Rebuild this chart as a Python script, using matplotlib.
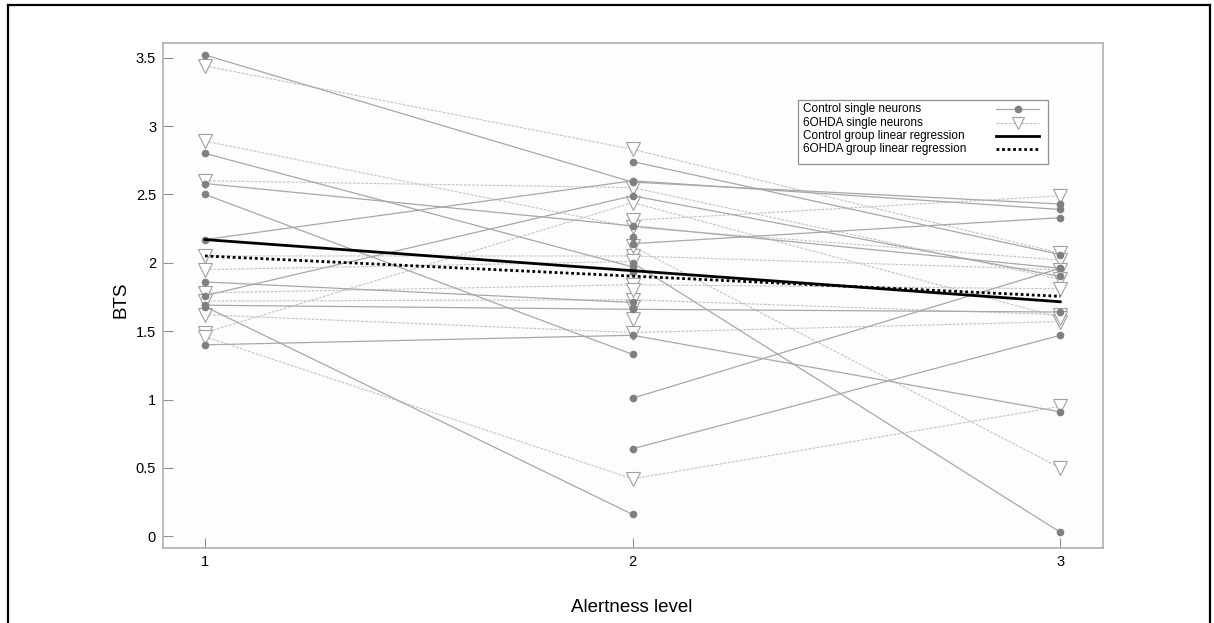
import numpy as np
import matplotlib
matplotlib.use("Agg")
import matplotlib.pyplot as plt
from matplotlib.lines import Line2D
from matplotlib.patches import Rectangle

plt.rcParams['font.family'] = ['Liberation Sans', 'DejaVu Sans']

nan = np.nan
levels = [1, 2, 3]

# Control single neurons: BTS at alertness levels 1, 2, 3 (nan = not recorded)
control_neurons = [
    [3.52, 2.59, 2.43],
    [2.17, 2.60, 2.39],
    [2.80, 1.97, nan],
    [2.58, 2.27, 1.96],
    [2.50, 1.33, nan],
    [1.86, 1.71, nan],
    [1.76, 2.49, 1.90],
    [1.69, 1.66, 1.64],
    [1.68, 0.16, nan],
    [1.40, 1.47, 0.91],
    [nan, 2.74, 2.06],
    [nan, 2.00, 0.03],
    [nan, 2.14, 2.33],
    [nan, 0.64, 1.47],
    [nan, 1.01, 1.96],
    [nan, 2.19, nan],
    [nan, 1.93, nan],
    [nan, 1.67, nan],
]

# 6OHDA single neurons
ohda_neurons = [
    [3.44, 2.83, 2.07],
    [2.89, 2.26, 2.02],
    [2.60, 2.55, 1.88],
    [2.05, 2.05, 1.95],
    [1.95, 2.01, nan],
    [1.78, 1.84, 1.81],
    [1.72, 1.73, 1.62],
    [1.62, 1.49, 1.57],
    [1.49, 2.44, 1.60],
    [1.46, 0.42, 0.95],
    [nan, 2.31, 2.49],
    [nan, 2.12, 0.50],
    [nan, 1.80, nan],
    [nan, 1.68, nan],
    [nan, 1.59, nan],
]

# Group linear regressions (values at level 1 and level 3)
reg_x = [1, 3]
control_reg = [2.17, 1.715]
ohda_reg = [2.05, 1.755]

yticks = [0, 0.5, 1, 1.5, 2, 2.5, 3, 3.5]
ytick_labels = ['0', '0.5', '1', '1.5', '2', '2.5', '3', '3.5']
xticks = [1, 2, 3]
legend_labels = ['Control single neurons', '6OHDA single neurons',
                 'Control group linear regression', '6OHDA group linear regression']

W, H = 1214, 623
fig = plt.figure(figsize=(W / 100, H / 100), dpi=100)
ax = fig.add_axes([0.1343, 0.1199, 0.9086 - 0.1343, 0.9315 - 0.1199])
ax.set_facecolor('#fdfdfd')

ctrl_line = '#a8a8a8'
ctrl_dot = '#808080'
ohda_line = '#c4c4c4'
ohda_tri = '#a0a0a0'
ohda_ls = (0, (2.5, 1.2))
dot_ls = (0, (1, 1))

ctrl_style = dict(color=ctrl_line, lw=0.9, ls='-', marker='o', markersize=4.5,
                  markerfacecolor=ctrl_dot, markeredgecolor=ctrl_dot)
ohda_style = dict(color=ohda_line, lw=0.8, ls=ohda_ls, marker='v', markersize=10,
                  markerfacecolor='white', markeredgecolor=ohda_tri,
                  markeredgewidth=0.8)

for vals in ohda_neurons:
    ax.plot(levels, vals, zorder=2, **ohda_style)

for vals in control_neurons:
    ax.plot(levels, vals, zorder=3, **ctrl_style)

ax.plot(reg_x, control_reg, color='black', lw=2.0, ls='-', zorder=5)
ax.plot(reg_x, ohda_reg, color='black', lw=2.0, ls=dot_ls, zorder=5)

ax.set_xlim(0.902, 3.1)
ax.set_ylim(-0.088, 3.61)
ax.set_xticks(xticks)
ax.set_xticklabels([str(x) for x in xticks])
ax.set_yticks(yticks)
ax.set_yticklabels(ytick_labels)
ax.tick_params(direction='in', length=7, width=0.8, color='#909090',
               labelsize=10.5, pad=5)

for s in ax.spines.values():
    s.set_color('#b0b0b0')
    s.set_linewidth(1.2)

ax.set_ylabel('BTS', fontsize=13.5)
ax.yaxis.set_label_coords(-0.036, 0.491)
ax.set_xlabel('Alertness level', fontsize=13.5)
ax.xaxis.set_label_coords(0.499, -0.101)

# Legend drawn in figure pixel space (text left-aligned, samples on the right)
def fx(px):
    return px / W

def fy(py):
    return 1 - py / H

fig.add_artist(Rectangle((fx(798), fy(164)), fx(1048) - fx(798), fy(100) - fy(164),
                         transform=fig.transFigure, facecolor='white',
                         edgecolor='#909090', lw=0.9, zorder=10))
row_y = [109, 123, 136, 149]
sample_styles = [
    dict(ctrl_style, markersize=4.5),
    dict(ohda_style, markersize=9),
    dict(color='black', lw=2.0, ls='-'),
    dict(color='black', lw=2.0, ls=dot_ls),
]
for label, ry, st in zip(legend_labels, row_y, sample_styles):
    fig.text(fx(803), fy(ry), label, fontsize=8.5, ha='left', va='center', zorder=11)
    st = dict(st)
    marker = st.pop('marker', None)
    ln = Line2D([fx(996), fx(1039)], [fy(ry), fy(ry)], transform=fig.transFigure,
                zorder=11, **st)
    fig.add_artist(ln)
    if marker is not None:
        mk = dict(st)
        mk.pop('ls', None)
        fig.add_artist(Line2D([fx(1018)], [fy(ry)], transform=fig.transFigure,
                              marker=marker, ls='none', zorder=12,
                              **{k: v for k, v in mk.items() if k.startswith('marker')}))

# Outer frame of the figure (left, top, right)
fx0, fx1, fy1 = 8 / W, 1210 / W, 1 - 5 / H
for xs, ys in [([fx0, fx0], [0, fy1]), ([fx0, fx1], [fy1, fy1]), ([fx1, fx1], [fy1, 0])]:
    fig.add_artist(Line2D(xs, ys, transform=fig.transFigure, color='black', lw=1.6))

fig.savefig('out.png', dpi=100)
